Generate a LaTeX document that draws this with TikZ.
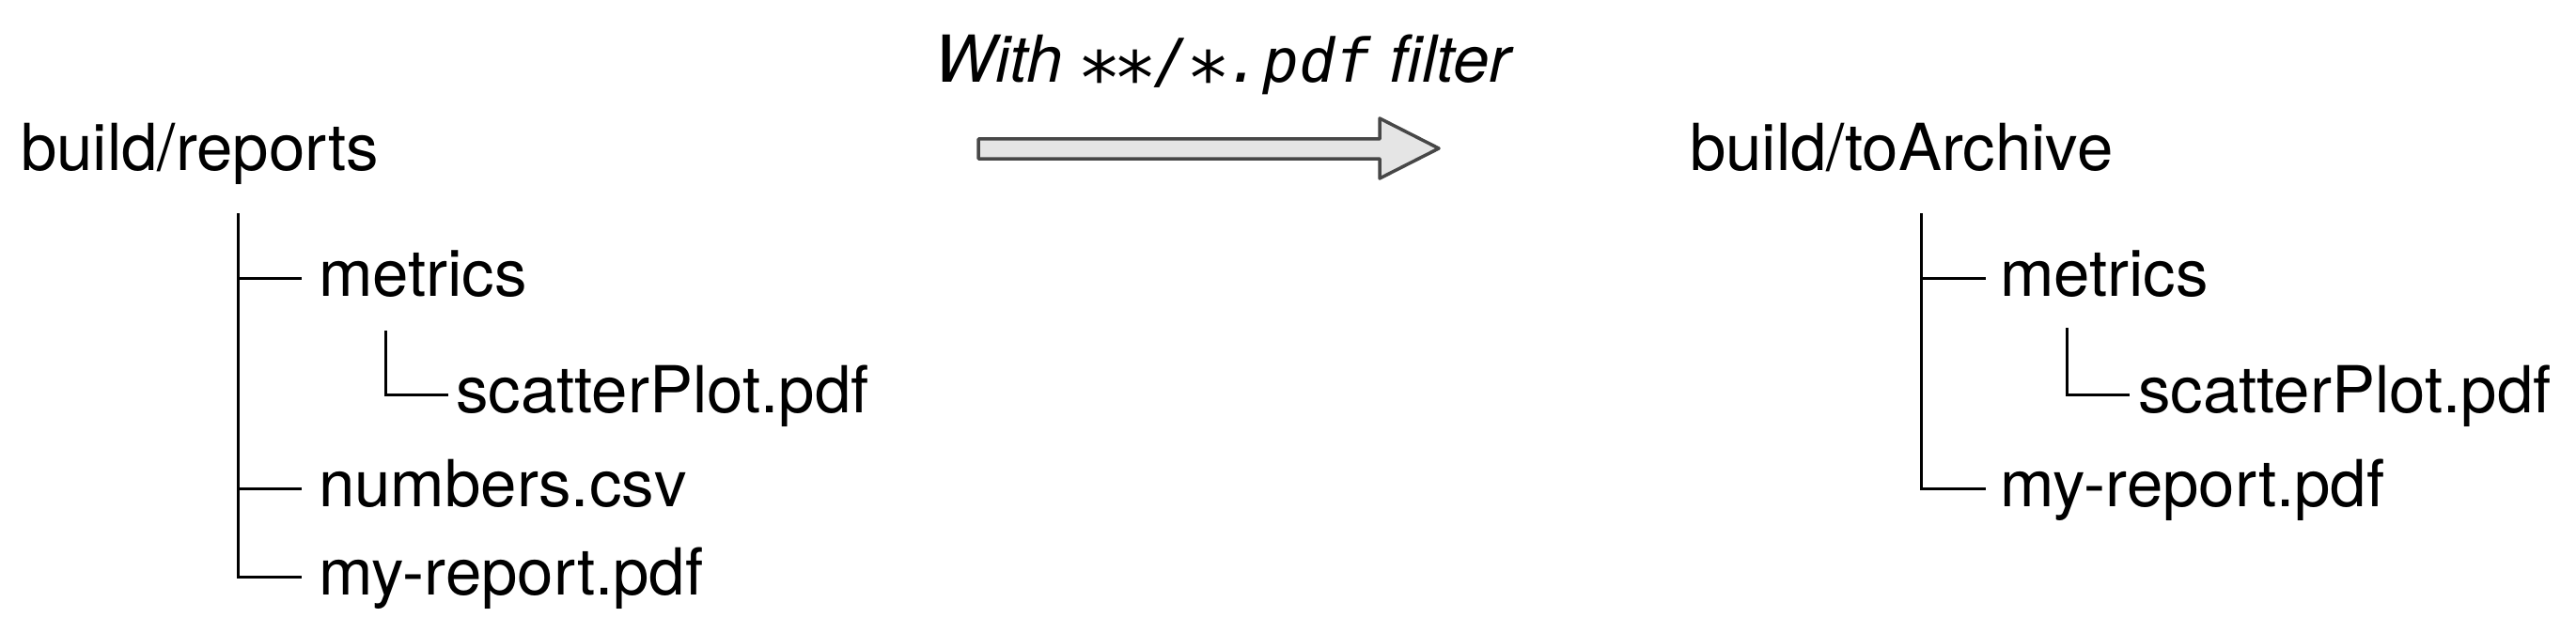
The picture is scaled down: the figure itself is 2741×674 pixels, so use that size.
\documentclass[tikz,border=0pt]{standalone}
\usepackage{fontspec}
\usepackage{graphicx}
\setmainfont{TeX Gyre Heros}
\setmonofont{DejaVu Sans Mono}[Scale=0.93]
\newcommand\fileast{\makebox[0.602em]{\raisebox{-0.11em}{\scalebox{1.22}{∗}}}}
\begin{document}
\begin{tikzpicture}[x=1pt,y=-1pt,
  lbl/.style={anchor=base west,inner sep=0pt,font=\fontsize{69}{80}\selectfont},
  treeline/.style={draw=black,line width=3pt,line cap=butt,line join=miter},
  bigarrow/.style={draw=black!72,fill=black!10,line width=3.5pt,line join=round}]
\useasboundingbox (0,0) rectangle (2741,674);
% title and arrow
\node[lbl] (title) at (994,88) {\itshape With \texttt{\fileast\fileast/\fileast.pdf} filter};
\draw[bigarrow] (1041,148) -- (1468,148) -- (1468,126) -- (1531,158) -- (1468,190) -- (1468,169) -- (1041,169) -- cycle;
% left tree
\node[lbl] (lroot) at (22,182) {build/reports};
\node[lbl] (lmet) at (339,315) {metrics};
\node[lbl] (lsc) at (485,439) {scatterPlot.pdf};
\node[lbl] (lnum) at (339,539) {numbers.csv};
\node[lbl] (lrep) at (339,633) {my-report.pdf};
\coordinate (ltop) at (253,227);
\coordinate (lstop) at (410,352);
\draw[treeline] (ltop) |- ([xshift=-18pt,yshift=19pt]lrep.base west);
\draw[treeline] (ltop |- lmet.base) ++(0,-19) -- ([xshift=-18pt,yshift=19pt]lmet.base west);
\draw[treeline] (ltop |- lnum.base) ++(0,-19) -- ([xshift=-18pt,yshift=19pt]lnum.base west);
\draw[treeline] (lstop) |- ([xshift=-8pt,yshift=19pt]lsc.base west);
% right tree
\node[lbl] (rroot) at (1798,182) {build/toArchive};
\node[lbl] (rmet) at (2128,315) {metrics};
\node[lbl] (rsc) at (2275,439) {scatterPlot.pdf};
\node[lbl] (rrep) at (2128,539) {my-report.pdf};
\coordinate (rtop) at (2044,227);
\coordinate (rstop) at (2199,349);
\draw[treeline] (rtop) |- ([xshift=-15pt,yshift=19pt]rrep.base west);
\draw[treeline] (rtop |- rmet.base) ++(0,-19) -- ([xshift=-15pt,yshift=19pt]rmet.base west);
\draw[treeline] (rstop) |- ([xshift=-9pt,yshift=19pt]rsc.base west);
\end{tikzpicture}
\end{document}
